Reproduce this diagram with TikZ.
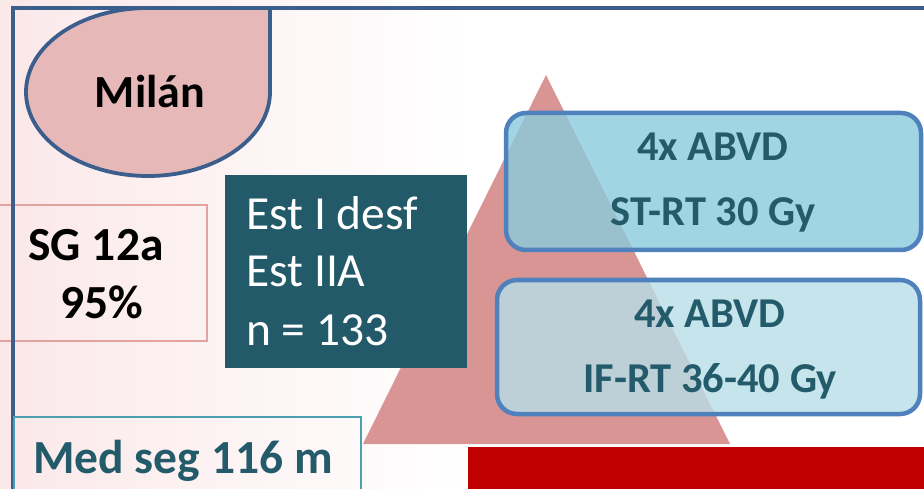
\documentclass[tikz,border=0pt]{standalone}
\usepackage{fontspec}
\setmainfont{Carlito}
\definecolor{frameblue}{HTML}{3B5E8C}
\definecolor{milanfill}{HTML}{E6B8B7}
\definecolor{tealdark}{HTML}{225A69}
\definecolor{tealtext}{HTML}{245B6A}
\definecolor{tealline}{HTML}{4BA0B0}
\definecolor{pinkline}{HTML}{E3A3A2}
\definecolor{trifill}{HTML}{D99594}
\definecolor{redbar}{HTML}{C00000}
\definecolor{boxline}{HTML}{4F81BD}
\definecolor{boxA}{HTML}{8ACBDC}
\definecolor{boxB}{HTML}{B7DEE8}
\definecolor{bgpink}{HTML}{FBE8E9}
\tikzset{
  bigbold/.style={font=\fontsize{47.5}{57}\selectfont\bfseries, inner sep=0pt, anchor=base},
  bigreg/.style={font=\fontsize{47.5}{57}\selectfont, text=white, inner sep=0pt, anchor=base west},
  boxtxt/.style={font=\fontsize{42.5}{50}\selectfont\bfseries, text=tealtext, inner sep=0pt, anchor=base},
  rbox/.style={draw=boxline, line width=4.5pt, rounded corners=20pt, fill opacity=0.8},
}
\begin{document}
\begin{tikzpicture}[x=1pt,y=-1pt]
\useasboundingbox (0,0) rectangle (924,489);
% background
\fill[white] (0,0) rectangle (924,489);
\shade[left color=bgpink, right color=white] (0,0) rectangle (470,489);
% SG box
\draw[pinkline, line width=1.5pt] (-2,205) rectangle (207,341);
% frame
\draw[frameblue, line width=3.8pt] (13,491) -- (13,8) -- (926,8);
% Milan shape
\draw[frameblue, line width=3.8pt, fill=milanfill] (270,92) .. controls (270,138.4) and (215.4,176) .. (148,176)
  .. controls (80.6,176) and (26,138.4) .. (26,92)
  .. controls (26,45.6) and (80.6,8) .. (148,8) -- (270,8) -- cycle;
\node[font=\fontsize{46}{57}\selectfont\bfseries, inner sep=0pt, anchor=base] (milan) at (150,108) {Milán};
% SG text
\node[bigbold] (sg) at (96,261) {SG 12a};
\node[bigbold] (pct) at (102,318) {95\%};
% triangle
\fill[trifill] (546,75) -- (730,444) -- (363,444) -- cycle;
% Est box
\fill[tealdark] (225,175) rectangle (467,368);
\node[bigreg] (est1) at (246,230) {Est I desf};
\node[bigreg] (est2) at (246,287) {Est IIA};
\node[bigreg] (est3) at (246,345) {n = 133};
% Med seg box
\draw[tealline, line width=1.5pt] (14,492) -- (14,417) -- (361,417) -- (361,492);
\node[bigbold, text=tealtext] (med) at (183,473) {Med seg 116 m};
% red bar
\fill[redbar] (468,447) rectangle (924,489);
% blue boxes
\draw[rbox, fill=boxA] (506,113) rectangle (921,250);
\node[boxtxt] (a1) at (713,161) {4x ABVD};
\node[boxtxt] (a2) at (713,226) {ST-RT 30 Gy};
\draw[rbox, fill=boxB] (497,280) rectangle (920,414);
\node[boxtxt] (b1) at (710,327) {4x ABVD};
\node[boxtxt] (b2) at (710,392) {IF-RT 36-40 Gy};
\end{tikzpicture}
\end{document}
